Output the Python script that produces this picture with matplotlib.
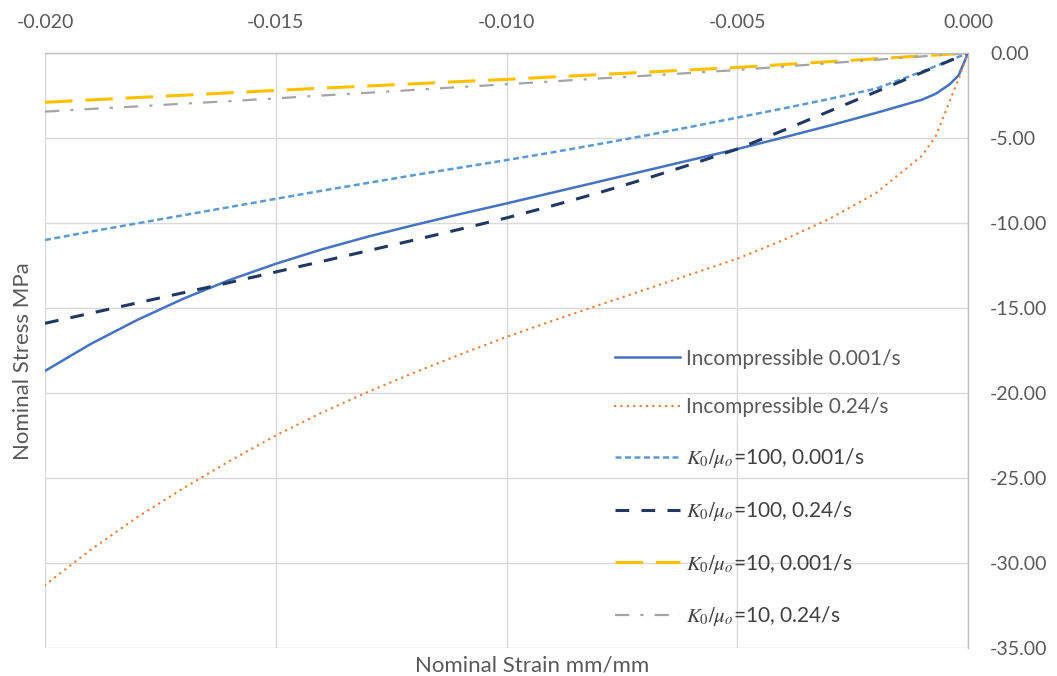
import numpy as np
import matplotlib
matplotlib.use("Agg")
import matplotlib.pyplot as plt
from matplotlib.ticker import MultipleLocator, FormatStrFormatter

plt.rcParams["font.family"] = ["Lato", "DejaVu Sans"]
plt.rcParams["mathtext.fontset"] = "stix"

# nominal strain (mm/mm), shared by every curve
strain = [-0.020, -0.019, -0.018, -0.017, -0.016, -0.015, -0.014, -0.013,
          -0.012, -0.011, -0.010, -0.009, -0.008, -0.007, -0.006, -0.005,
          -0.004, -0.003, -0.002, -0.001, -0.0007, -0.0004, -0.0002, 0.0]

# nominal stress (MPa)
incomp_slow = [-18.7, -17.1, -15.7, -14.45, -13.35, -12.4, -11.55, -10.8,
               -10.12, -9.47, -8.85, -8.21, -7.57, -6.93, -6.29, -5.65,
               -4.97, -4.27, -3.53, -2.75, -2.4, -1.85, -1.3, 0.0]
incomp_fast = [-31.3, -29.2, -27.3, -25.6, -24.0, -22.5, -21.15, -19.93,
               -18.8, -17.73, -16.7, -15.75, -14.83, -13.92, -13.01, -12.1,
               -11.0, -9.75, -8.25, -6.05, -4.9, -2.85, -1.5, 0.0]
k100_slow = [-11.0, -10.5, -10.02, -9.54, -9.06, -8.58, -8.1, -7.64,
             -7.18, -6.74, -6.3, -5.84, -5.36, -4.86, -4.34, -3.8,
             -3.26, -2.7, -2.1, -1.1, -0.77, -0.44, -0.22, 0.0]
k100_fast = [-15.9, -15.3, -14.7, -14.1, -13.5, -12.88, -12.26, -11.63,
             -11.0, -10.36, -9.7, -8.98, -8.22, -7.41, -6.55, -5.65,
             -4.55, -3.42, -2.29, -1.15, -0.8, -0.46, -0.23, 0.0]
k10_slow = [-2.9, -2.76, -2.62, -2.48, -2.34, -2.2, -2.07, -1.94,
            -1.81, -1.68, -1.55, -1.41, -1.27, -1.13, -0.99, -0.85,
            -0.68, -0.51, -0.34, -0.17, -0.12, -0.07, -0.03, 0.0]
k10_fast = [-3.45, -3.29, -3.14, -2.98, -2.83, -2.67, -2.5, -2.34,
            -2.17, -2.0, -1.84, -1.67, -1.5, -1.34, -1.17, -1.0,
            -0.8, -0.6, -0.4, -0.2, -0.14, -0.08, -0.04, 0.0]

labels = ["Incompressible 0.001/s",
          "Incompressible 0.24/s",
          r"$K_0/\mu_o$=100, 0.001/s",
          r"$K_0/\mu_o$=100, 0.24/s",
          r"$K_0/\mu_o$=10, 0.001/s",
          r"$K_0/\mu_o$=10, 0.24/s"]

text_grey = "#595959"
grid_grey = "#D9D9D9"

fig = plt.figure(figsize=(10.57, 6.76), dpi=100)
ax = fig.add_axes([0.0426, 0.0414, 0.8732, 0.8802])

ax.plot(strain, incomp_slow, color="#4472C4", lw=1.8, label=labels[0])
ax.plot(strain, incomp_fast, color="#ED7D31", lw=1.7, dashes=(0.1, 2.6),
        dash_capstyle="round", label=labels[1])
ax.plot(strain, k100_slow, color="#5B9BD5", lw=1.8, dashes=(2.4, 1.4),
        label=labels[2])
ax.plot(strain, k100_fast, color="#203864", lw=2.2, dashes=(4.5, 4.0),
        label=labels[3])
ax.plot(strain, k10_slow, color="#FFC000", lw=2.2, dashes=(9.0, 4.2),
        label=labels[4])
ax.plot(strain, k10_fast, color="#A5A5A5", lw=1.6, dashes=(6.4, 5.0, 1.4, 5.0),
        label=labels[5])

ax.set_xlim(-0.020, 0.0)
ax.set_ylim(-35, 0)
ax.xaxis.set_major_locator(MultipleLocator(0.005))
ax.yaxis.set_major_locator(MultipleLocator(5))
ax.xaxis.set_major_formatter(FormatStrFormatter("%.3f"))
ax.yaxis.set_major_formatter(FormatStrFormatter("%.2f"))

# value labels on top and right, like a spreadsheet chart with reversed axes
ax.xaxis.tick_top()
ax.yaxis.tick_right()
ax.tick_params(axis="x", length=0, pad=16, labelsize=14, labelcolor=text_grey)
ax.tick_params(axis="y", length=0, pad=16, labelsize=14, labelcolor=text_grey)

ax.grid(True, color=grid_grey, lw=1.0)
ax.set_axisbelow(True)
for side in ["left", "bottom"]:
    ax.spines[side].set_visible(False)
for side in ["top", "right"]:
    ax.spines[side].set_color("#BFBFBF")
    ax.spines[side].set_linewidth(1.0)

ax.set_xlabel("Nominal Strain mm/mm", fontsize=16, color=text_grey)
ax.xaxis.set_label_position("bottom")
ax.xaxis.set_label_coords(0.5276, -0.013)
ax.set_ylabel("Nominal Stress MPa", fontsize=16, color=text_grey)
ax.yaxis.set_label_position("left")
ax.yaxis.set_label_coords(-0.013, 0.482)

leg = ax.legend(loc="upper left", bbox_to_anchor=(0.6175, 0.503),
                frameon=False, fontsize=15, handlelength=3.1,
                handletextpad=0.3, labelspacing=1.38,
                borderpad=0, borderaxespad=0)
for t in leg.get_texts():
    t.set_color("#404040" if "$" in t.get_text() else text_grey)

fig.savefig("out.png", dpi=100, facecolor="white")
